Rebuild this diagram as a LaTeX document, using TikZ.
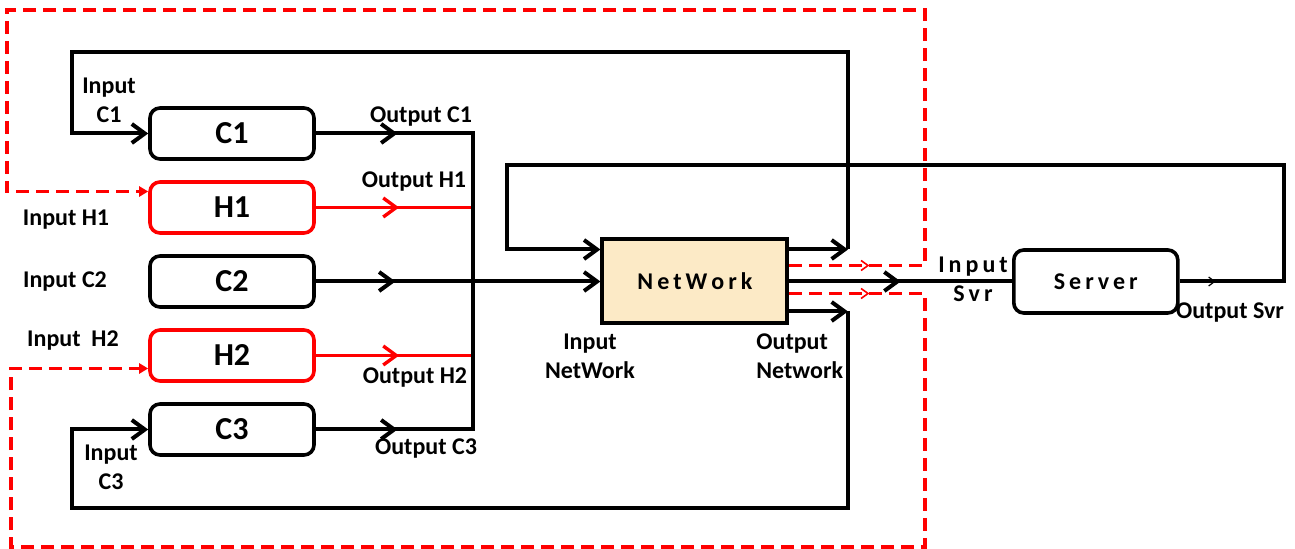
\documentclass[tikz,border=0pt]{standalone}
\usepackage{fontspec}
\setmainfont{Carlito}
\usetikzlibrary{arrows.meta, positioning, decorations.markings}
\definecolor{netfill}{HTML}{FCEAC6}
\definecolor{hred}{HTML}{FF0000}

\begin{document}
\begin{tikzpicture}[
    x = 0.5pt, y = -0.5pt,
    node distance = 9.7pt,
    unit/.style = {rectangle, rounded corners=5pt, draw, line width=1.8pt,
                   minimum width=82pt, minimum height=25.5pt,
                   font=\fontsize{16pt}{18pt}\selectfont\bfseries},
    hunit/.style = {unit, draw=hred},
    netbox/.style = {rectangle, draw, line width=2pt, fill=netfill,
                     minimum width=92.5pt, minimum height=42pt,
                     font=\fontsize{12pt}{14pt}\selectfont\bfseries},
    svrbox/.style = {unit, minimum height=31.5pt,
                     font=\fontsize{12pt}{14pt}\selectfont\bfseries},
    lbl/.style = {font=\fontsize{12pt}{14.5pt}\selectfont\bfseries,
                  align=center, inner sep=0pt},
    wire/.style = {line width=2pt, black},
    redwire/.style = {line width=1.7pt, hred},
    reddash/.style = {line width=1.7pt, hred, dash pattern=on 6.5pt off 3.5pt},
    arrow/.style = {-{Straight Barb[length=6.5pt, width=9.5pt]}},
    redend/.style = {-{Triangle[length=4.5pt, width=5pt]}},
    midarrow/.style = {postaction={decorate}, decoration={markings,
        mark=at position #1 with {\arrow{Straight Barb[length=6.5pt, width=9.5pt]}}}},
    redmid/.style = {postaction={decorate}, decoration={markings,
        mark=at position #1 with {\arrow{Straight Barb[length=3.5pt, width=5pt, line width=0.8pt]}}}},
    thinmid/.style = {postaction={decorate}, decoration={markings,
        mark=at position #1 with {\arrow{Straight Barb[length=3pt, width=4.5pt, line width=0.6pt]}}}}
  ]
  \useasboundingbox (0,0) rectangle (1295,549);

  \node[unit] (c1) at (232,133.5) {C1};
  \node[hunit, below=of c1] (h1) {H1};
  \node[unit, below=of h1]  (c2) {C2};
  \node[hunit, below=of c2] (h2) {H2};
  \node[unit, below=of h2]  (c3) {C3};
  \node[netbox, right=142.3pt of c2] (net) {N\,e\,t\,W\,o\,r\,k};
  \node[svrbox, right=111.3pt of net] (srv) {S\,e\,r\,v\,e\,r};

  \coordinate (bus) at (473,0);
  \coordinate (ntr) at (848,52);
  \coordinate (ntl) at (72,52);
  \coordinate (nbr) at (848,508);
  \coordinate (nbl) at (72,508);
  \coordinate (sr)  at (1284,165);
  \coordinate (sl)  at (507,165);
  \coordinate (rtr) at (925,10);
  \coordinate (rtl) at (7,10);
  \coordinate (rbr) at (925,547);
  \coordinate (rbl) at (11,547);

  \draw[wire, midarrow=0.52]    (c1) -- (c1 -| bus);
  \draw[redwire, midarrow=0.53] (h1) -- (h1 -| bus);
  \draw[wire, arrow, midarrow=0.28] (c2) -- (net);
  \draw[redwire, midarrow=0.53] (h2) -- (h2 -| bus);
  \draw[wire, midarrow=0.52]    (c3) -- (c3 -| bus);
  \draw[wire, line cap=rect]    (c1 -| bus) -- (c3 -| bus);

  \draw[wire, arrow] ([yshift=16pt]net.east) -- ([yshift=16pt]net.east -| ntr);
  \draw[wire, arrow] ([yshift=16pt]net.east -| ntr) -- (ntr) -- (ntl) |- (c1);
  \draw[wire, arrow] ([yshift=-15pt]net.east) -- ([yshift=-15pt]net.east -| nbr);
  \draw[wire, arrow] ([yshift=-15pt]net.east -| nbr) -- (nbr) -- (nbl) |- (c3);

  \draw[wire, midarrow=0.5] (net) -- (srv);
  \draw[wire, arrow, thinmid=18pt] (srv) -- (srv -| sr) -- (sr) -- (sl) |- ([yshift=16pt]net.west);

  \draw[reddash, redend, redmid=40pt] ([yshift=8pt]net.east) -- ([yshift=8pt]net.east -| rtr)
    -- (rtr) -- (rtl) |- ([yshift=8pt]h1.west);
  \draw[reddash, redend, redmid=40pt] ([yshift=-6pt]net.east) -- ([yshift=-6pt]net.east -| rbr)
    -- (rbr) -- (rbl) |- ([yshift=-6.5pt]h2.west);

  \node[lbl] (inc1)   at (109,100)  {Input\\C1};
  \node[lbl] (outc1)  at (421,117)  {Output C1};
  \node[lbl] (outh1)  at (414,182)  {Output H1};
  \node[lbl] (inh1)   at (66,220)   {Input H1};
  \node[lbl] (inc2)   at (65,282)   {Input C2};
  \node[lbl] (inh2)   at (73,341)   {Input~~H2};
  \node[lbl] (outh2)  at (415,378)  {Output H2};
  \node[lbl] (outc3)  at (426,449)  {Output C3};
  \node[lbl] (inc3)   at (111,467)  {Input\\C3};
  \node[lbl] (innet)  at (590,356)  {Input\\NetWork};
  \node[lbl, align=left, anchor=west] (outnet) at (756,356) {Output\\Network};
  \node[lbl] (insvr)  at (973,279)  {I\,n\,p\,u\,t\\S\,v\,r};
  \node[lbl] (outsvr) at (1230,313) {Output Svr};
\end{tikzpicture}
\end{document}
